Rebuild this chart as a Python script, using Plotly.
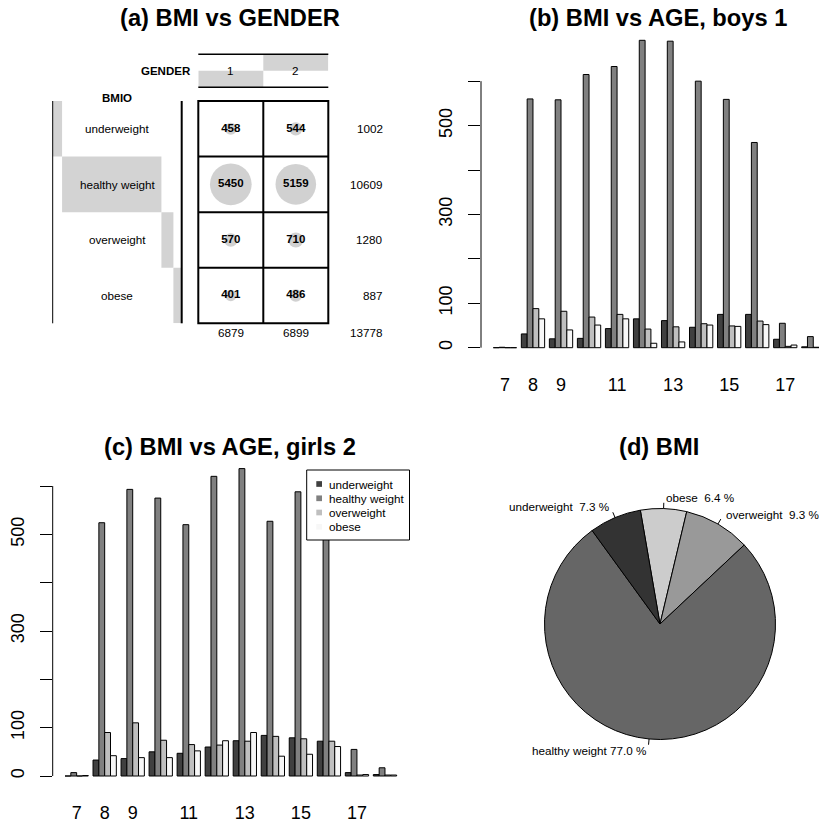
import numpy as np
import plotly.graph_objects as go

W, H = 819, 828
FONT = "Liberation Sans, Arial, Helvetica, sans-serif"

# ---------------- data ----------------
bmi_levels = ["underweight", "healthy weight", "overweight", "obese"]
gender_levels = ["1", "2"]
gender_counts_1 = [458, 5450, 570, 401]
gender_counts_2 = [544, 5159, 710, 486]

ages = [str(a) for a in range(7, 19)]
age_tick_labels = ["7", "8", "9", "11", "13", "15", "17"]
count_tick_values = [0, 100, 200, 300, 400, 500, 600]
count_tick_labels = ["0", "100", "", "300", "", "500", ""]

boys_underweight = [0, 31, 20, 21, 43, 65, 61, 46, 75, 75, 19, 2]
boys_healthy = [1, 560, 558, 615, 633, 692, 690, 600, 559, 462, 55, 25]
boys_overweight = [0, 88, 82, 69, 75, 42, 47, 54, 49, 60, 3, 1]
boys_obese = [0, 65, 40, 51, 65, 10, 13, 51, 48, 52, 6, 0]

girls_underweight = [0, 33, 36, 50, 47, 60, 73, 84, 79, 72, 7, 3]
girls_healthy = [7, 524, 593, 575, 520, 620, 636, 527, 588, 497, 55, 17]
girls_overweight = [0, 90, 110, 74, 65, 64, 72, 82, 77, 72, 2, 2]
girls_obese = [1, 42, 38, 38, 52, 73, 90, 41, 45, 61, 3, 2]

titles = ["(a) BMI vs GENDER", "(b) BMI vs AGE, boys 1",
          "(c) BMI vs AGE, girls 2", "(d) BMI"]

# ---------------- styles ----------------
bar_colors = ["#404040", "#808080", "#BFBFBF", "#F7F7F7"]
pie_colors = ["#333333", "#666666", "#999999", "#CCCCCC"]
margin_gray = "#D3D3D3"
bubble_gray = "#BEBEBE"


def fx(p):
    return p / W


def fy(p):
    return 1 - p / H


fig = go.Figure()

# ---------------- (b) and (c) grouped bars ----------------
SLOT = 28.03            # px per age group
FIRST_OFF = 23.95       # px from plot left edge to first group centre
panels = {
    "b": dict(left=481.0, right=819.0, top=28.0, bottom=360.0, xa="x", ya="y",
              data=[boys_underweight, boys_healthy, boys_overweight, boys_obese]),
    "c": dict(left=52.7, right=409.3, top=456.3, bottom=788.3, xa="x2", ya="y2",
              data=[girls_underweight, girls_healthy, girls_overweight, girls_obese]),
}
axes_layout = {}
shapes = []
annotations = []

for key, p in panels.items():
    for name, vals, col in zip(bmi_levels, p["data"], bar_colors):
        fig.add_trace(go.Bar(
            x=ages, y=vals, name=name, xaxis=p["xa"], yaxis=p["ya"],
            marker=dict(color=col, line=dict(color="black", width=1)),
            showlegend=False, hoverinfo="x+y+name"))
    m = max(max(v) for v in p["data"])
    x0 = -FIRST_OFF / SLOT
    x1 = x0 + (p["right"] - p["left"]) / SLOT
    xname = "xaxis" if p["xa"] == "x" else "xaxis2"
    yname = "yaxis" if p["ya"] == "y" else "yaxis2"
    axes_layout[xname] = dict(
        domain=[fx(p["left"]), fx(p["right"])], anchor=p["ya"], type="category",
        categoryorder="array", categoryarray=ages, range=[x0, x1],
        tickmode="array", tickvals=age_tick_labels, ticktext=age_tick_labels,
        ticks="", showline=False, showgrid=False, zeroline=False,
        tickfont=dict(size=18, color="black", family=FONT), ticklabelstandoff=12)
    axes_layout[yname] = dict(
        domain=[fy(p["bottom"]), fy(p["top"])], anchor=p["xa"],
        range=[-0.04 * m, 1.04 * m], tickmode="array",
        tickvals=count_tick_values, ticktext=count_tick_labels,
        ticks="outside", ticklen=12, tickwidth=1, tickcolor="black",
        tickangle=-90, showline=False, showgrid=False, zeroline=False,
        tickfont=dict(size=18, color="black", family=FONT), ticklabelstandoff=9)
    # axis line spanning only first..last tick (as in R)
    shapes.append(dict(type="line", xref="paper", yref=p["ya"],
                       x0=fx(p["left"]), x1=fx(p["left"]),
                       y0=count_tick_values[0], y1=count_tick_values[-1],
                       line=dict(color="black", width=1)))

# ---------------- (a) table plot ----------------
counts = np.array([gender_counts_1, gender_counts_2]).T   # rows: bmi, cols: gender
row_tot = counts.sum(axis=1)
col_tot = counts.sum(axis=0)
grand = counts.sum()
row_prop = row_tot / grand
col_prop = col_tot / grand
row_base = np.concatenate([[0], np.cumsum(row_prop)[:-1]])
col_base = np.concatenate([[0], np.cumsum(col_prop)[:-1]])

D_MAX = 41.7
cx, cy, csz, ctxt = [], [], [], []
for i, b in enumerate(bmi_levels):
    for j, g in enumerate(gender_levels):
        cx.append(g)
        cy.append(b)
        csz.append(D_MAX * np.sqrt(counts[i, j] / counts.max()))
        ctxt.append(str(counts[i, j]))

fig.add_trace(go.Scatter(
    x=cx, y=cy, mode="markers+text", text=ctxt, textposition="middle center",
    textfont=dict(size=11.5, color="black", family=FONT, weight="bold"),
    marker=dict(size=csz, color=bubble_gray, line=dict(width=0)),
    xaxis="x3", yaxis="y3", showlegend=False, hoverinfo="skip"))

fig.add_trace(go.Bar(
    y=bmi_levels, x=row_prop, base=row_base, orientation="h", width=1,
    marker=dict(color=margin_gray, line=dict(width=0)),
    xaxis="x4", yaxis="y3", showlegend=False, hoverinfo="skip"))

fig.add_trace(go.Bar(
    x=gender_levels, y=col_prop, base=col_base, width=1,
    marker=dict(color=margin_gray, line=dict(width=0)),
    xaxis="x3", yaxis="y4", showlegend=False, hoverinfo="skip"))

A_GRID_L, A_GRID_R, A_GRID_T, A_GRID_B = 198.3, 328.3, 101.0, 323.3
A_ROW_L, A_ROW_R = 52.7, 181.7
A_HEAD_T, A_HEAD_B = 54.3, 87.3

axes_layout["xaxis3"] = dict(domain=[fx(A_GRID_L), fx(A_GRID_R)], anchor="y3",
                             type="category", categoryorder="array",
                             categoryarray=gender_levels, range=[-0.5, 1.5], visible=False)
axes_layout["yaxis3"] = dict(domain=[fy(A_GRID_B), fy(A_GRID_T)], anchor="x3",
                             type="category", categoryorder="array",
                             categoryarray=bmi_levels, range=[3.5, -0.5], visible=False)
axes_layout["xaxis4"] = dict(domain=[fx(A_ROW_L), fx(A_ROW_R)], anchor="y3",
                             range=[0, 1], visible=False)
axes_layout["yaxis4"] = dict(domain=[fy(A_HEAD_B), fy(A_HEAD_T)], anchor="x3",
                             range=[0, 1], visible=False)

LW = 2
shapes.append(dict(type="rect", xref="x3 domain", yref="y3 domain", x0=0, x1=1, y0=0, y1=1,
                   line=dict(color="black", width=LW)))
for j in range(len(gender_levels) - 1):
    shapes.append(dict(type="line", xref="x3", yref="y3 domain", x0=j + 0.5, x1=j + 0.5,
                       y0=0, y1=1, line=dict(color="black", width=LW)))
for i in range(len(bmi_levels) - 1):
    shapes.append(dict(type="line", xref="x3 domain", yref="y3", x0=0, x1=1,
                       y0=i + 0.5, y1=i + 0.5, line=dict(color="black", width=LW)))
for yy in (0, 1):
    shapes.append(dict(type="line", xref="x3 domain", yref="y4 domain", x0=0, x1=1,
                       y0=yy, y1=yy, line=dict(color="black", width=1.5)))
shapes.append(dict(type="line", xref="x4 domain", yref="y3 domain", x0=0, x1=0, y0=0, y1=1,
                   line=dict(color="black", width=1)))
shapes.append(dict(type="line", xref="x4 domain", yref="y3 domain", x0=1, x1=1, y0=0, y1=1,
                   line=dict(color="black", width=2)))

small = dict(size=11.7, color="black", family=FONT)
small_b = dict(size=11.5, color="black", family=FONT, weight="bold")


def ann(text, x, y, xref="paper", yref="paper", xanchor="center", yanchor="middle", font=None):
    annotations.append(dict(text=text, x=x, y=y, xref=xref, yref=yref, xanchor=xanchor,
                            yanchor=yanchor, showarrow=False, font=font or small))


# category axes: annotations are positioned by category index
ann("GENDER", fx(193), 0.5, yref="y4 domain", xanchor="right", font=small_b)
for j, g in enumerate(gender_levels):
    ann(g, j, 0.5, xref="x3", yref="y4 domain")
ann("BMIO", 0.5, fy(97.7), xref="x4 domain", font=small_b)
for i, b in enumerate(bmi_levels):
    ann(b, 0.5, i, xref="x4 domain", yref="y3")
    ann(str(row_tot[i]), fx(384.5), i, yref="y3", xanchor="right")
for j, g in enumerate(gender_levels):
    ann(str(col_tot[j]), j, fy(332.7), xref="x3")
ann(str(grand), fx(384.5), fy(332.7), xanchor="right")

# ---------------- (c) legend ----------------
LEG_L, LEG_R, LEG_T, LEG_B = 306.7, 409.5, 470.0, 540.0
shapes.append(dict(type="rect", xref="paper", yref="paper", x0=fx(LEG_L), x1=fx(LEG_R),
                   y0=fy(LEG_B), y1=fy(LEG_T), line=dict(color="black", width=1),
                   fillcolor="white", layer="above"))
leg_y = [484.0, 498.3, 512.5, 526.8]
for name, col, yy in zip(bmi_levels, bar_colors, leg_y):
    shapes.append(dict(type="rect", xref="paper", yref="paper", x0=fx(316.3), x1=fx(322.0),
                       y0=fy(yy + 2.85), y1=fy(yy - 2.85), line=dict(width=0), fillcolor=col,
                       layer="above"))
    ann(name, fx(327.3), fy(yy), xanchor="left")

# ---------------- (d) pie ----------------
PIE_CX, PIE_CY, PIE_R = 660.0, 624.0, 115.5
START_DEG = 99.8   # start angle (counter-clockwise from 3 o'clock), like R init.angle
fig.add_trace(go.Pie(
    labels=bmi_levels[::-1], values=row_tot[::-1].tolist(), sort=False,
    direction="clockwise", rotation=90 - START_DEG,
    marker=dict(colors=pie_colors[::-1], line=dict(color="black", width=1)),
    textinfo="none", showlegend=False, hoverinfo="label+percent",
    domain=dict(x=[fx(PIE_CX - PIE_R), fx(PIE_CX + PIE_R)],
                y=[fy(PIE_CY + PIE_R), fy(PIE_CY - PIE_R)])))

frac = row_tot / row_tot.sum()
cum = np.concatenate([[0], np.cumsum(frac)[:-1]])
for name, f, c0 in zip(bmi_levels, frac, cum):
    th = np.deg2rad(START_DEG + 360 * (c0 + f / 2))
    ux, uy = np.cos(th), np.sin(th)
    shapes.append(dict(type="line", xref="paper", yref="paper",
                       x0=fx(PIE_CX + PIE_R * ux), y0=fy(PIE_CY - PIE_R * uy),
                       x1=fx(PIE_CX + 1.05 * PIE_R * ux), y1=fy(PIE_CY - 1.05 * PIE_R * uy),
                       line=dict(color="black", width=1)))
    label = f"{name} {100 * f:4.1f} %".replace("  ", " \u00a0")
    ann(label, fx(PIE_CX + 1.1 * PIE_R * ux), fy(PIE_CY - 1.1 * PIE_R * uy),
        xanchor="left" if ux > 0 else "right")

# ---------------- titles ----------------
title_font = dict(size=23.7, color="black", family=FONT, weight="bold")
for t, (x, y) in zip(titles, [(230, 18), (658, 18), (230, 446.7), (659, 446.7)]):
    ann(t, fx(x), fy(y), font=title_font)

fig.update_layout(
    width=W, height=H, autosize=False,
    margin=dict(l=0, r=0, t=0, b=0, pad=0),
    paper_bgcolor="white", plot_bgcolor="rgba(0,0,0,0)",
    barmode="group", bargap=0.169, bargroupgap=0,
    font=dict(family=FONT, color="black"),
    shapes=shapes, annotations=annotations, showlegend=False,
    **axes_layout)

# remove the default 8px page margin so the 819x828 figure fills the window
fig.write_html("out.html",
               config={"displayModeBar": False},
               post_script="document.body.style.margin='0';document.body.style.overflow='hidden';")
